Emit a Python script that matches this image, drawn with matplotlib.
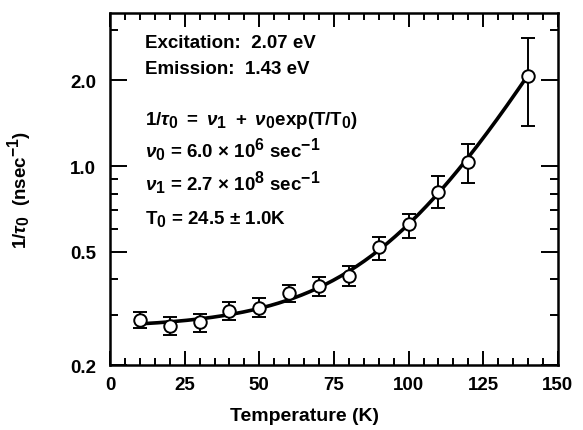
import numpy as np
import matplotlib.pyplot as plt
import matplotlib._mathtext as mt
from matplotlib.ticker import FixedLocator, NullFormatter

plt.rcParams["font.family"] = ["Liberation Sans", "DejaVu Sans"]
plt.rcParams["font.weight"] = "bold"
plt.rcParams["mathtext.fontset"] = "custom"
plt.rcParams["mathtext.rm"] = "Liberation Sans:bold"
plt.rcParams["mathtext.it"] = "Liberation Sans:bold:italic"
plt.rcParams["mathtext.bf"] = "Liberation Sans:bold"
# subscripts in the original are almost full size
mt.SHRINK_FACTOR = 0.85

# measured points (nsec^-1)
temps = [10, 20, 30, 40, 50, 60, 70, 80, 90, 100, 110, 120, 140]
rate = [0.288, 0.274, 0.284, 0.309, 0.318, 0.357, 0.378, 0.411, 0.518,
        0.628, 0.811, 1.03, 2.07]
rate_hi = [0.308, 0.294, 0.303, 0.333, 0.343, 0.383, 0.407, 0.447, 0.562,
           0.681, 0.923, 1.20, 2.81]
rate_lo = [0.270, 0.255, 0.262, 0.288, 0.294, 0.332, 0.349, 0.378, 0.467,
           0.560, 0.711, 0.871, 1.38]

# fit parameters as printed on the chart (nsec^-1, K)
nu0 = 0.006
nu1 = 0.27
T0 = 24.5

yticks_major = [0.2, 0.5, 1.0, 2.0]
yticks_minor = [0.3, 0.4, 0.6, 0.7, 0.8, 0.9, 3.0]


def main():
    fig = plt.figure(figsize=(5.83, 4.31), dpi=100)
    ax = fig.add_axes([0.1887, 0.1508, 0.7683, 0.8167])

    t = np.linspace(temps[0], temps[-1], 200)
    ax.plot(t, nu1 + nu0 * np.exp(t / T0), color="black", lw=2.6, zorder=2)

    r = np.array(rate)
    yerr = [r - np.array(rate_lo), np.array(rate_hi) - r]
    ax.errorbar(temps, rate, yerr=yerr, fmt="o", ms=9, mfc="white",
                mec="black", mew=1.4, ecolor="black", elinewidth=1.4,
                capsize=5, capthick=1.4, zorder=3)

    ax.set_yscale("log")
    ax.set_xlim(0, 150)
    ax.set_ylim(0.2, 3.45)
    ax.set_xticks([0, 25, 50, 75, 100, 125, 150])
    ax.set_xticks(np.arange(0, 151, 5), minor=True)
    ax.yaxis.set_major_locator(FixedLocator(yticks_major))
    ax.yaxis.set_minor_locator(FixedLocator(yticks_minor))
    ax.set_yticklabels(["0.2", "0.5", "1.0", "2.0"])
    ax.yaxis.set_minor_formatter(NullFormatter())

    ax.tick_params(which="both", direction="in", top=True, right=True,
                   width=1.4, labelsize=13.5)
    ax.tick_params(axis="x", which="major", length=10, pad=8)
    ax.tick_params(axis="x", which="minor", length=5)
    ax.tick_params(axis="y", which="major", length=12, pad=10)
    ax.tick_params(axis="y", which="minor", length=6)
    for s in ax.spines.values():
        s.set_linewidth(1.8)

    ax.set_xlabel("Temperature (K)", fontsize=14, fontweight="bold")
    ax.xaxis.set_label_coords(0.435, -0.118)
    ax.set_ylabel(r"$1/\tau_0$  (nsec$^{-1}$)", fontsize=13.5, fontweight="bold")
    ax.yaxis.set_label_coords(-0.172, 0.5)

    kw = dict(transform=ax.transAxes, fontsize=13.5, fontweight="bold",
              va="baseline", ha="left")
    x0 = 0.078
    ax.text(x0, 0.903, "Excitation:  2.07 eV", **kw)
    ax.text(x0, 0.830, "Emission:  1.43 eV", **kw)
    ax.text(x0, 0.685,
            r"$1/\tau_0\ =\ \nu_1\ +\ \nu_0$exp(T/T$_0$)", **kw)
    ax.text(x0, 0.594, r"$\nu_0$ = 6.0 $\times$ 10$^6$ sec$^{-1}$", **kw)
    ax.text(x0, 0.500, r"$\nu_1$ = 2.7 $\times$ 10$^8$ sec$^{-1}$", **kw)
    ax.text(x0, 0.403, r"T$_0$ = 24.5 $\pm$ 1.0K", **kw)

    fig.savefig("out.png", dpi=100)


if __name__ == "__main__":
    main()
